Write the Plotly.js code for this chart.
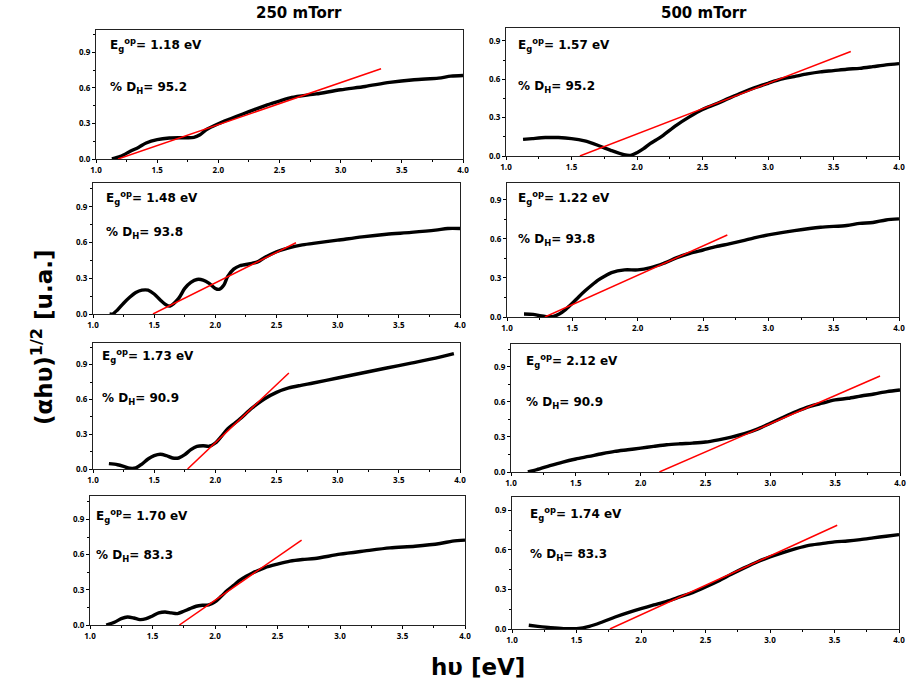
<!DOCTYPE html>
<html><head><meta charset="utf-8">
<script src="https://cdn.plot.ly/plotly-3.0.1.min.js"></script>
<style>html,body{margin:0;padding:0;background:#fff}#c{width:907px;height:686px}</style>
</head><body><div id="c"></div>
<script>
// ---- data ----
const colTitles = ["250 mTorr", "500 mTorr"];
const egValues = ["1.18", "1.57", "1.48", "1.22", "1.73", "2.12", "1.70", "1.74"];
const dhValues = ["95.2", "95.2", "93.8", "93.8", "90.9", "90.9", "83.3", "83.3"];

const x1 = [1.13,1.2,1.28,1.35,1.41,1.5,1.6,1.7,1.8,1.85,1.9,2.0,2.1,2.2,2.3,2.4,2.5,2.6,2.8,3.0,3.2,3.4,3.6,3.8,3.9,4.0];
const y1 = [0,0.022,0.065,0.1,0.135,0.163,0.177,0.18,0.182,0.205,0.247,0.298,0.34,0.38,0.42,0.458,0.49,0.52,0.55,0.585,0.613,0.647,0.67,0.683,0.70,0.705];
const fx1 = [1.18, 3.33]; const fy1 = [0, 0.762];

const x2 = [1.13,1.2,1.3,1.4,1.5,1.6,1.7,1.8,1.9,1.95,2.0,2.05,2.1,2.15,2.2,2.3,2.4,2.5,2.6,2.7,2.8,2.9,3.0,3.1,3.2,3.3,3.4,3.5,3.6,3.7,3.8,3.9,4.0];
const y2 = [0.13,0.136,0.144,0.144,0.136,0.118,0.084,0.044,0.01,0.005,0.026,0.057,0.097,0.128,0.162,0.24,0.306,0.364,0.405,0.45,0.494,0.534,0.568,0.6,0.62,0.641,0.657,0.667,0.678,0.685,0.698,0.712,0.722];
const fx2 = [1.564, 3.632]; const fy2 = [0, 0.816];

const x3 = [1.135,1.16,1.2,1.25,1.3,1.35,1.4,1.45,1.5,1.55,1.6,1.63,1.7,1.75,1.8,1.85,1.9,1.95,2.0,2.03,2.07,2.1,2.15,2.2,2.3,2.35,2.4,2.5,2.6,2.7,2.8,3.0,3.2,3.4,3.6,3.8,3.9,4.0];
const y3 = [0,0,0.034,0.09,0.14,0.18,0.2,0.2,0.168,0.117,0.075,0.067,0.131,0.215,0.265,0.29,0.285,0.257,0.215,0.207,0.243,0.313,0.377,0.405,0.425,0.44,0.472,0.523,0.556,0.579,0.593,0.62,0.648,0.67,0.685,0.704,0.718,0.718];
const fx3 = [1.49, 2.659]; const fy3 = [0, 0.598];

const x4 = [1.13,1.2,1.25,1.3,1.35,1.4,1.45,1.5,1.55,1.6,1.65,1.7,1.75,1.8,1.9,2.0,2.1,2.2,2.3,2.4,2.5,2.6,2.7,2.8,2.9,3.0,3.2,3.4,3.6,3.7,3.8,3.9,4.0];
const y4 = [0.023,0.02,0.01,0.003,0.003,0.023,0.059,0.105,0.156,0.203,0.246,0.285,0.315,0.341,0.362,0.362,0.38,0.413,0.456,0.49,0.515,0.541,0.562,0.585,0.61,0.631,0.664,0.69,0.703,0.72,0.726,0.746,0.754];
const fx4 = [1.29, 2.686]; const fy4 = [0, 0.63];

const x5 = [1.13,1.2,1.25,1.3,1.35,1.4,1.45,1.5,1.55,1.6,1.65,1.7,1.75,1.8,1.85,1.9,1.95,2.0,2.05,2.1,2.15,2.2,2.3,2.4,2.5,2.6,2.7,2.8,3.0,3.2,3.4,3.6,3.8,3.95];
const y5 = [0.046,0.037,0.023,0.006,0.009,0.043,0.086,0.115,0.127,0.115,0.095,0.095,0.124,0.167,0.196,0.201,0.196,0.224,0.282,0.345,0.388,0.431,0.526,0.604,0.661,0.699,0.722,0.742,0.785,0.828,0.871,0.914,0.957,0.995];
const fx5 = [1.773, 2.601]; const fy5 = [0, 0.828];

const x6 = [1.13,1.2,1.3,1.4,1.5,1.6,1.7,1.8,1.9,2.0,2.1,2.2,2.3,2.4,2.5,2.6,2.7,2.8,2.9,3.0,3.1,3.2,3.3,3.4,3.5,3.6,3.7,3.8,3.9,4.0];
const y6 = [0,0.02,0.054,0.085,0.111,0.133,0.156,0.176,0.19,0.204,0.219,0.233,0.241,0.247,0.256,0.275,0.298,0.327,0.366,0.417,0.468,0.517,0.559,0.588,0.616,0.63,0.65,0.667,0.687,0.701];
const fx6 = [2.144, 3.846]; const fy6 = [0, 0.821];

const x7 = [1.13,1.2,1.25,1.3,1.35,1.4,1.45,1.5,1.55,1.6,1.65,1.7,1.75,1.8,1.85,1.9,1.95,2.0,2.05,2.1,2.15,2.2,2.25,2.3,2.35,2.4,2.5,2.6,2.7,2.8,3.0,3.2,3.4,3.6,3.8,3.9,4.0];
const y7 = [0,0.026,0.054,0.068,0.06,0.046,0.054,0.077,0.103,0.111,0.103,0.097,0.117,0.14,0.16,0.168,0.171,0.197,0.245,0.296,0.339,0.382,0.416,0.444,0.467,0.49,0.519,0.544,0.558,0.567,0.604,0.632,0.658,0.672,0.695,0.715,0.724];
const fx7 = [1.715, 2.693]; const fy7 = [0, 0.724];

const x8 = [1.13,1.2,1.3,1.4,1.5,1.6,1.7,1.8,1.9,2.0,2.1,2.2,2.3,2.4,2.5,2.6,2.7,2.8,2.9,3.0,3.1,3.2,3.3,3.4,3.5,3.6,3.7,3.8,3.9,4.0];
const y8 = [0.028,0.02,0.01,0.003,0.003,0.02,0.053,0.091,0.124,0.154,0.182,0.21,0.243,0.276,0.318,0.364,0.415,0.463,0.508,0.546,0.579,0.609,0.634,0.647,0.66,0.667,0.677,0.69,0.703,0.715];
const fx8 = [1.759, 3.521]; const fy8 = [0, 0.786];

// ---- layout geometry (pixels) ----
const W = 907, H = 686;
const panels = [
  {x:[96,463], y:[30,159], top:1.09, ex:108, ey:45, dy:88},
  {x:[506,899], y:[28,156], top:1.0, ex:516, ey:45, dy:87},
  {x:[93,460], y:[183,314], top:1.1, ex:104, ey:198, dy:233},
  {x:[507,899], y:[183,317], top:1.03, ex:516, ey:198, dy:240},
  {x:[93,460], y:[343,469], top:1.087, ex:100, ey:356, dy:399},
  {x:[511,900], y:[344,472], top:1.094, ex:524, ey:361, dy:403},
  {x:[90,465], y:[496,625], top:1.1, ex:94, ey:516, dy:556},
  {x:[512,899], y:[497,629], top:1.0, ex:528, ey:514, dy:555}
];
const curvesX = [x1,x2,x3,x4,x5,x6,x7,x8];
const curvesY = [y1,y2,y3,y4,y5,y6,y7,y8];
const fitsX = [fx1,fx2,fx3,fx4,fx5,fx6,fx7,fx8];
const fitsY = [fy1,fy2,fy3,fy4,fy5,fy6,fy7,fy8];

const FONT = 'Open Sans, DejaVu Sans, sans-serif';
const TFONT = 'DejaVu Sans, Verdana, sans-serif';
const tickfont = {family: FONT, size: 8, color: '#000', weight: 'bold'};
const traces = [];
const layout = {
  width: W, height: H, margin: {l:0, r:0, t:0, b:0, autoexpand:false},
  paper_bgcolor: '#fff', plot_bgcolor: '#fff', showlegend: false,
  annotations: []
};
const px = v => v / W;
const py = v => 1 - v / H;

panels.forEach((p, i) => {
  const n = i + 1;
  const xa = 'x' + (n === 1 ? '' : n), ya = 'y' + (n === 1 ? '' : n);
  traces.push({x: curvesX[i], y: curvesY[i], xaxis: xa, yaxis: ya, mode: 'lines',
    line: {color: '#000', width: 3.4, shape: 'spline', smoothing: 0.8}, hoverinfo: 'skip'});
  traces.push({x: fitsX[i], y: fitsY[i], xaxis: xa, yaxis: ya, mode: 'lines',
    line: {color: '#ff0000', width: 1.5}, hoverinfo: 'skip'});
  layout['xaxis' + (n === 1 ? '' : n)] = {
    domain: [px(p.x[0]), px(p.x[1])], anchor: ya, range: [1, 4],
    tick0: 1, dtick: 0.5, tickformat: '.1f', ticks: 'outside', ticklen: 3, tickwidth: 1, tickcolor: '#000',
    minor: {dtick: 0.25, ticks: 'outside', ticklen: 2, tickcolor: '#000'},
    showline: true, linecolor: '#222', linewidth: 1, mirror: true,
    showgrid: false, zeroline: false, tickfont: tickfont
  };
  layout['yaxis' + (n === 1 ? '' : n)] = {
    domain: [py(p.y[1]), py(p.y[0])], anchor: xa, range: [0, p.top],
    tick0: 0, dtick: 0.3, tickformat: '.1f', ticks: 'outside', ticklen: 3, tickwidth: 1, tickcolor: '#000',
    minor: {dtick: 0.15, ticks: 'outside', ticklen: 2, tickcolor: '#000'},
    showline: true, linecolor: '#222', linewidth: 1, mirror: true,
    showgrid: false, zeroline: false, tickfont: tickfont
  };
  layout.annotations.push({xref: 'paper', yref: 'paper', x: px(p.ex), y: py(p.ey), xanchor: 'left', yanchor: 'middle',
    showarrow: false, text: 'E<sub>g</sub><sup>op</sup>= ' + egValues[i] + ' eV',
    font: {family: TFONT, size: 12, color: '#000', weight: 'bold'}});
  layout.annotations.push({xref: 'paper', yref: 'paper', x: px(p.ex), y: py(p.dy), xanchor: 'left', yanchor: 'middle',
    showarrow: false, text: '% D<sub>H</sub>= ' + dhValues[i],
    font: {family: TFONT, size: 12, color: '#000', weight: 'bold'}});
});

layout.annotations.push({xref:'paper', yref:'paper', x: px(299), y: py(13), xanchor:'center', yanchor:'middle', showarrow:false,
  text: colTitles[0], font: {family: TFONT, size: 15, color: '#000', weight: 'bold'}});
layout.annotations.push({xref:'paper', yref:'paper', x: px(704), y: py(13), xanchor:'center', yanchor:'middle', showarrow:false,
  text: colTitles[1], font: {family: TFONT, size: 15, color: '#000', weight: 'bold'}});
layout.annotations.push({xref:'paper', yref:'paper', x: px(42), y: py(338), xanchor:'center', yanchor:'middle', showarrow:false,
  textangle: -90, text: '(\u03b1h\u03c5)<sup>1/2</sup> [u.a.]', font: {family: TFONT, size: 23, color: '#000', weight: 'bold'}});
layout.annotations.push({xref:'paper', yref:'paper', x: px(478), y: py(667), xanchor:'center', yanchor:'middle', showarrow:false,
  text: 'h\u03c5 [eV]', font: {family: TFONT, size: 23, color: '#000', weight: 'bold'}});

Plotly.newPlot('c', traces, layout, {staticPlot: true, displayModeBar: false});
</script></body></html>
